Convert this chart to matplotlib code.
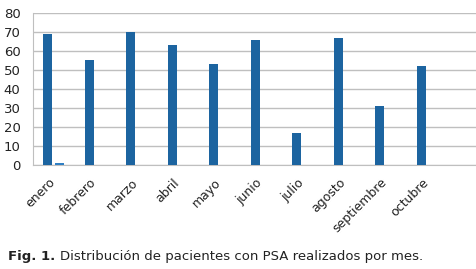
import matplotlib.pyplot as plt
import matplotlib.transforms as mtransforms
import numpy as np

meses = ['enero', 'febrero', 'marzo', 'abril', 'mayo', 'junio',
         'julio', 'agosto', 'septiembre', 'octubre']
pacientes = [69, 55, 70, 63, 53, 66, 17, 67, 31, 52]
otros = [1, 0, 0, 0, 0, 0, 0, 0, 0, 0]
yticks = [0, 10, 20, 30, 40, 50, 60, 70, 80]

fig = plt.figure(figsize=(4.76, 2.69), dpi=100)
ax = fig.add_axes([0.0693, 0.387, 0.9307, 0.565])

x = np.arange(len(meses))
w = 0.22
ax.bar(x - 0.145, pacientes, width=w, color='#1c64a0', zorder=3)
ax.bar(x + 0.145, otros, width=w, color='#2f7fc4', zorder=3)

ax.set_ylim(0, 80)
ax.set_xlim(-0.5, 10.17)
ax.set_yticks(yticks)
ax.set_yticklabels([str(v) for v in yticks], fontsize=9.5, color='#222222')
ax.yaxis.grid(True, color='#bfbfbf', linewidth=1.0, zorder=0)
ax.tick_params(axis='y', length=0, pad=9)
ax.tick_params(axis='x', length=0, pad=8)
ax.set_xticks(x)
ax.set_xticklabels(meses, rotation=45, ha='right', rotation_mode='anchor',
                   fontsize=9, color='#222222')
# nudge month labels a little to the left, like the original
shift = mtransforms.ScaledTranslation(-4 / 72, 0, fig.dpi_scale_trans)
for lbl in ax.get_xticklabels():
    lbl.set_transform(lbl.get_transform() + shift)
for s in ['top', 'right']:
    ax.spines[s].set_visible(False)
ax.spines['left'].set_color('#bfbfbf')
ax.spines['bottom'].set_color('#bfbfbf')

fig.text(0.017, 0.045, 'Fig. 1.', fontsize=9.5, fontweight='bold',
         color='#222222', va='center')
fig.text(0.125, 0.045, 'Distribución de pacientes con PSA realizados por mes.',
         fontsize=9.5, color='#222222', va='center')

fig.savefig('out.png', dpi=100)
